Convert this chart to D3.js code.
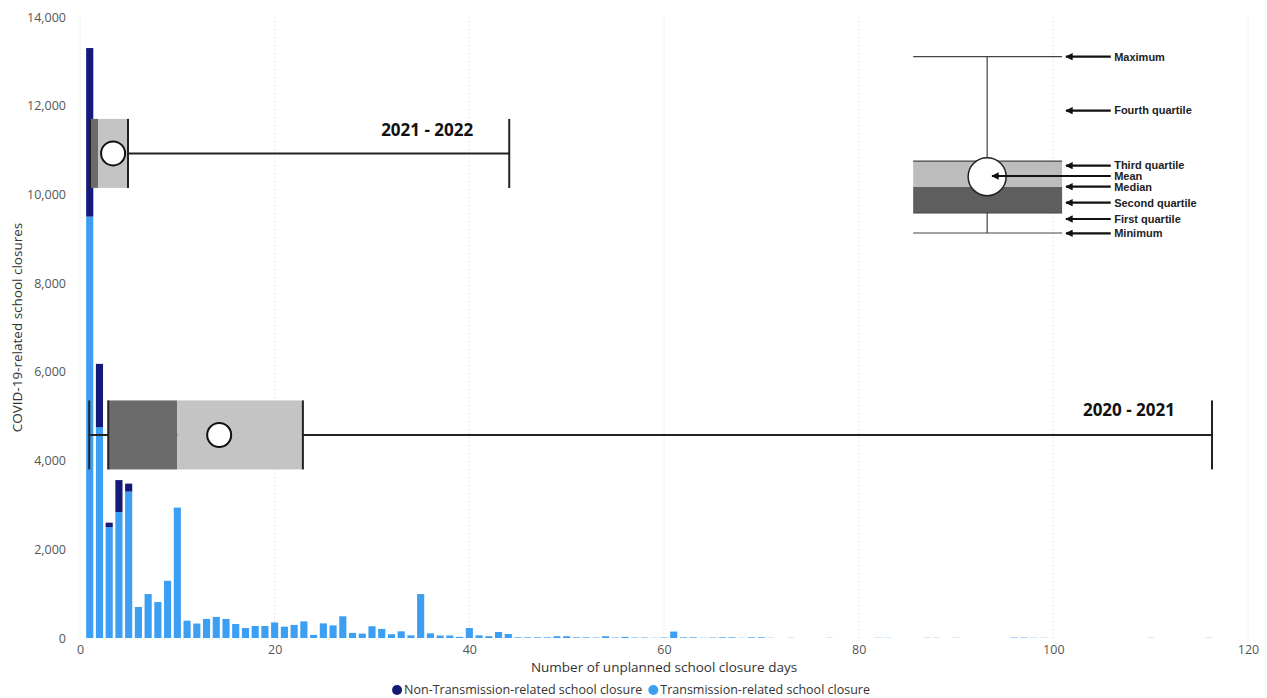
<!DOCTYPE html>
<html>
<head>
<meta charset="utf-8">
<script src="https://cdn.jsdelivr.net/npm/d3@7"></script>
<style>
  body { margin: 0; background: #fff; }
  text { font-family: "Open Sans", "Noto Sans", sans-serif; }
</style>
</head>
<body>
<div id="chart"></div>
<script>
// closures per number of unplanned closure days (day 1, 2, 3 ...)
var transmission = [
  9500, 4750, 2500, 2840, 3300, 700, 990, 810, 1290, 2940,
  390, 325, 430, 475, 430, 315, 225, 270, 270, 350,
  255, 295, 375, 70, 330, 285, 490, 115, 100, 265,
  205, 85, 150, 60, 990, 105, 55, 55, 25, 225,
  60, 40, 135, 90, 15, 15, 15, 15, 40, 40,
  15, 15, 10, 40, 10, 25, 10, 10, 5, 10,
  145, 15, 15, 5, 10, 15, 15, 5, 15, 15,
  5, 0, 5, 0, 0, 0, 5, 0, 0, 0,
  0, 5, 5, 0, 0, 0, 5, 5, 0, 5,
  0, 0, 0, 0, 0, 10, 10, 5, 5, 0,
  0, 0, 0, 0, 0, 0, 0, 0, 0, 5,
  0, 0, 0, 0, 0, 5, 0
];
var nonTransmission = [3800, 1430, 100, 720, 180];

var seriesNames = ["Non-Transmission-related school closure", "Transmission-related school closure"];
var seriesColors = ["#131a7a", "#3d9ff4"];

var xTicks = [0, 20, 40, 60, 80, 100, 120];
var yTicks = [0, 2000, 4000, 6000, 8000, 10000, 12000, 14000];

// school-year box plots (days), drawn at a fixed height on the closures axis
var boxes = [
  {label: "2021 - 2022", min: 1.03, q1: 1.03, median: 1.85, q3: 4.93, max: 44.1, mean: 3.4,
   yMid: 10925, yHalf: 778, labelX: 40.4, labelY: 11320},
  {label: "2020 - 2021", min: 0.95, q1: 2.9, median: 10, q3: 22.9, max: 116.3, mean: 14.3,
   yMid: 4578, yHalf: 778, labelX: 112.5, labelY: 5000}
];

// schematic key (in axis units)
var key = {left: 85.6, right: 100.9, center: 93.2, max: 13105, q3: 10753, median: 10167,
           q1: 9581, min: 9130, mean: 10400};
var keyLabels = ["Maximum", "Fourth quartile", "Third quartile", "Mean", "Median",
                 "Second quartile", "First quartile", "Minimum"];
var keyLabelY = [13105, 11889, 10649, 10415, 10174, 9814, 9446, 9124];

var margin = {top: 17, right: 19, bottom: 60, left: 80},
    width = 1267 - margin.left - margin.right,
    height = 698 - margin.top - margin.bottom;

var svg = d3.select("#chart").append("svg")
    .attr("width", 1267).attr("height", 698);
var g = svg.append("g")
    .attr("transform", "translate(" + margin.left + "," + margin.top + ")");

var x = d3.scaleLinear().domain([0, 120]).range([0, width]);
var y = d3.scaleLinear().domain([0, 14000]).range([height, 0]);

// dotted vertical grid
g.selectAll(".grid").data(xTicks).enter().append("line")
  .attr("x1", function(d) { return x(d); }).attr("x2", function(d) { return x(d); })
  .attr("y1", 0).attr("y2", height)
  .attr("stroke", "#d0d0d0").attr("stroke-dasharray", "1,3");

// axes
var xAxis = g.append("g").attr("transform", "translate(0," + height + ")")
  .call(d3.axisBottom(x).tickValues(xTicks).tickSize(0).tickPadding(7));
var yAxis = g.append("g")
  .call(d3.axisLeft(y).tickValues(yTicks).tickSize(0).tickPadding(14).tickFormat(d3.format(",")));
[xAxis, yAxis].forEach(function(a) {
  a.select(".domain").remove();
  a.selectAll("text").attr("font-size", 12.5).attr("fill", "#555")
    .style("font-family", "'Open Sans', sans-serif");
});

// stacked bars
var rows = transmission.map(function(v, i) {
  return {day: i + 1, trans: v, non: nonTransmission[i] || 0};
});
var bw = x(1) - x(0) - 2.6;

g.selectAll(".bar-t").data(rows).enter().append("rect")
  .attr("x", function(d) { return x(d.day) - bw / 2; })
  .attr("width", bw)
  .attr("y", function(d) { return y(d.trans); })
  .attr("height", function(d) { return y(0) - y(d.trans); })
  .attr("fill", seriesColors[1]);

g.selectAll(".bar-n").data(rows.filter(function(d) { return d.non > 0; })).enter().append("rect")
  .attr("x", function(d) { return x(d.day) - bw / 2; })
  .attr("width", bw)
  .attr("y", function(d) { return y(d.trans + d.non); })
  .attr("height", function(d) { return y(d.trans) - y(d.trans + d.non); })
  .attr("fill", seriesColors[0]);

// box plots
var bg = g.selectAll(".box").data(boxes).enter().append("g");
bg.append("line")
  .attr("x1", function(d) { return x(d.min); }).attr("x2", function(d) { return x(d.max); })
  .attr("y1", function(d) { return y(d.yMid); }).attr("y2", function(d) { return y(d.yMid); })
  .attr("stroke", "#222").attr("stroke-width", 2);
bg.append("rect")
  .attr("x", function(d) { return x(d.q1); })
  .attr("width", function(d) { return x(d.median) - x(d.q1); })
  .attr("y", function(d) { return y(d.yMid + d.yHalf); })
  .attr("height", function(d) { return y(d.yMid - d.yHalf) - y(d.yMid + d.yHalf); })
  .attr("fill", "#6b6b6b");
bg.append("rect")
  .attr("x", function(d) { return x(d.median); })
  .attr("width", function(d) { return x(d.q3) - x(d.median); })
  .attr("y", function(d) { return y(d.yMid + d.yHalf); })
  .attr("height", function(d) { return y(d.yMid - d.yHalf) - y(d.yMid + d.yHalf); })
  .attr("fill", "#c4c4c4");
["min", "q1", "q3", "max"].forEach(function(k) {
  bg.append("line")
    .attr("x1", function(d) { return x(d[k]); }).attr("x2", function(d) { return x(d[k]); })
    .attr("y1", function(d) { return y(d.yMid + d.yHalf); })
    .attr("y2", function(d) { return y(d.yMid - d.yHalf); })
    .attr("stroke", "#222").attr("stroke-width", 2);
});
bg.append("circle")
  .attr("cx", function(d) { return x(d.mean); })
  .attr("cy", function(d) { return y(d.yMid); })
  .attr("r", 12)
  .attr("fill", "#fff").attr("stroke", "#111").attr("stroke-width", 2);
bg.append("text")
  .attr("x", function(d) { return x(d.labelX); })
  .attr("y", function(d) { return y(d.labelY); })
  .attr("text-anchor", "end")
  .attr("font-size", 17).attr("font-weight", 700).attr("fill", "#111")
  .text(function(d) { return d.label; });

// schematic key
var kg = g.append("g");
svg.append("defs").append("marker")
  .attr("id", "arrow").attr("viewBox", "0 0 10 10")
  .attr("refX", 9).attr("refY", 5)
  .attr("markerWidth", 3.4).attr("markerHeight", 3.4)
  .attr("orient", "auto")
  .append("path").attr("d", "M10,5 L0,0 L0,10 Z").attr("fill", "#111");

kg.append("rect").attr("x", x(key.left)).attr("width", x(key.right) - x(key.left))
  .attr("y", y(key.q3)).attr("height", y(key.median) - y(key.q3)).attr("fill", "#bdbdbd");
kg.append("rect").attr("x", x(key.left)).attr("width", x(key.right) - x(key.left))
  .attr("y", y(key.median)).attr("height", y(key.q1) - y(key.median)).attr("fill", "#5e5e5e");
[key.max, key.q3, key.q1, key.min].forEach(function(v) {
  kg.append("line").attr("x1", x(key.left)).attr("x2", x(key.right))
    .attr("y1", y(v)).attr("y2", y(v)).attr("stroke", "#444").attr("stroke-width", 1.2);
});
kg.append("line").attr("x1", x(key.center)).attr("x2", x(key.center))
  .attr("y1", y(key.max)).attr("y2", y(key.q3)).attr("stroke", "#444").attr("stroke-width", 1.2);
kg.append("line").attr("x1", x(key.center)).attr("x2", x(key.center))
  .attr("y1", y(key.q1)).attr("y2", y(key.min)).attr("stroke", "#444").attr("stroke-width", 1.2);
kg.append("circle").attr("cx", x(key.center)).attr("cy", y(key.mean)).attr("r", 19)
  .attr("fill", "#fff").attr("stroke", "#222").attr("stroke-width", 1.5);

kg.selectAll(".karrow").data(keyLabels).enter().append("line")
  .attr("x1", x(105.9))
  .attr("x2", function(d) { return d === "Mean" ? x(93.7) : x(101.3); })
  .attr("y1", function(d, i) { return y(keyLabelY[i]); })
  .attr("y2", function(d, i) { return y(keyLabelY[i]); })
  .attr("stroke", "#111").attr("stroke-width", 2.2)
  .attr("marker-end", "url(#arrow)");
kg.selectAll(".klabel").data(keyLabels).enter().append("text")
  .attr("x", x(106.25))
  .attr("y", function(d, i) { return y(keyLabelY[i]); })
  .attr("dy", "0.35em")
  .attr("font-size", 11).attr("font-weight", 700).attr("fill", "#222")
  .style("font-family", "'Liberation Sans', Arial, sans-serif")
  .text(function(d) { return d; });

// axis titles
svg.append("text")
  .attr("transform", "translate(22," + (margin.top + height / 2) + ") rotate(-90)")
  .attr("text-anchor", "middle").attr("font-size", 13.5).attr("fill", "#333")
  .text("COVID-19-related school closures");
svg.append("text")
  .attr("x", margin.left + x(60)).attr("y", 672)
  .attr("text-anchor", "middle").attr("font-size", 13.5).attr("fill", "#333")
  .text("Number of unplanned school closure days");

// legend
var lg = svg.append("g");
var items = lg.selectAll(".leg").data(seriesNames).enter().append("g");
items.append("circle").attr("r", 5).attr("cy", 0)
  .attr("fill", function(d, i) { return seriesColors[i]; });
items.append("text").attr("x", 7).attr("dy", "0.35em")
  .attr("font-size", 12.5).attr("fill", "#333")
  .text(function(d) { return d; });
var offset = 0;
items.each(function() {
  d3.select(this).attr("transform", "translate(" + offset + ",0)");
  offset += this.getBBox().width + 6;
});
lg.attr("transform", "translate(" + (634 - offset / 2 + 5) + ",690)");
</script>
</body>
</html>
